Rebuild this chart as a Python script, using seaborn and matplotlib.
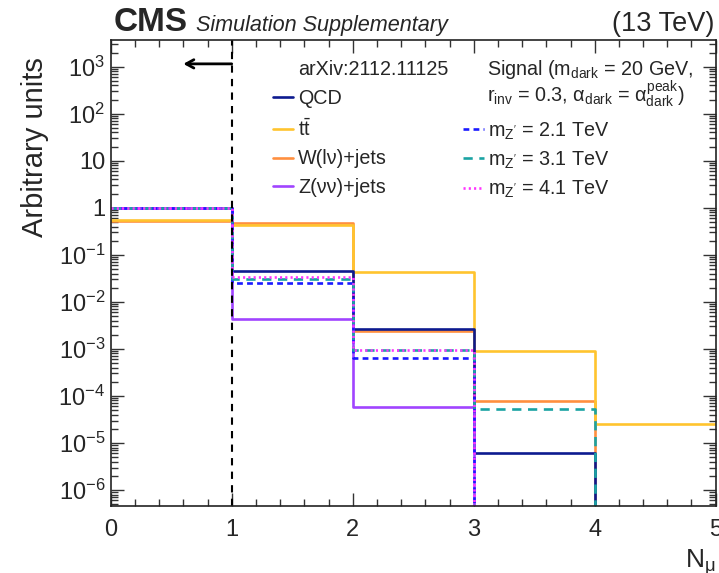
import numpy as np
import pandas as pd
import matplotlib
matplotlib.use("Agg")
import matplotlib.pyplot as plt
import seaborn as sns
from matplotlib.ticker import MultipleLocator, LogLocator, FuncFormatter, NullFormatter
from matplotlib.lines import Line2D

# ---------------- data ----------------
bin_edges = [0, 1, 2, 3, 4, 5]
bin_centers = [0.5, 1.5, 2.5, 3.5, 4.5]

qcd = [1.0, 0.046, 0.0027, 6.2e-6, 0.0]
ttbar = [0.55, 0.44, 0.0435, 8.9e-4, 2.5e-5]
wjets = [0.53, 0.48, 0.0024, 7.7e-5, 0.0]
zjets = [1.0, 0.0044, 5.8e-5, 0.0, 0.0]
sig_21 = [1.0, 0.0246, 6.4e-4, 0.0, 0.0]
sig_31 = [1.0, 0.030, 9.4e-4, 5.2e-5, 0.0]
sig_41 = [1.0, 0.033, 9.4e-4, 0.0, 0.0]

bkg_labels = ["QCD", r"$\mathrm{t\bar{t}}$", "W(lν)+jets", "Z(νν)+jets"]
sig_labels = [r"m$_{\mathrm{Z'}}$ = 2.1 TeV", r"m$_{\mathrm{Z'}}$ = 3.1 TeV", r"m$_{\mathrm{Z'}}$ = 4.1 TeV"]
header_left = "arXiv:2112.11125"
header_right1 = r"Signal (m$_{\mathrm{dark}}$ = 20 GeV,"
header_right2 = r"r$_{\mathrm{inv}}$ = 0.3, $\alpha_{\mathrm{dark}}$ = $\alpha_{\mathrm{dark}}^{\mathrm{peak}}$)"
y_label = "Arbitrary units"
x_label = r"N$_{\mu}$"

# ---------------- style ----------------
sns.set_style("ticks")
plt.rcParams["font.family"] = ["Liberation Sans", "DejaVu Sans"]
plt.rcParams["mathtext.fontset"] = "custom"
plt.rcParams["mathtext.rm"] = "Liberation Sans"
plt.rcParams["mathtext.it"] = "Liberation Sans"
plt.rcParams["mathtext.bf"] = "Liberation Sans:bold"
plt.rcParams["mathtext.sf"] = "Liberation Sans"

fig = plt.figure(figsize=(7.19, 5.73), dpi=100)
ax = fig.add_axes([0.154, 0.1164, 0.8414, 0.8138])
ax.set_yscale("log")

c_qcd = "#0d1a8f"
c_tt = "#ffc42e"
c_w = "#ff8f3f"
c_z = "#a044ff"
c_s1 = "#1a1aff"
c_s2 = "#1aa3a3"
c_s3 = "#ff33ff"

lw = 1.9

def draw(values, color, ls="-"):
    sns.histplot(x=bin_centers, weights=values, bins=bin_edges, element="step",
                 fill=False, color=color, linestyle=ls, linewidth=lw, ax=ax)
    return ax.lines[-1]

h_w = draw(wjets, c_w)
h_tt = draw(ttbar, c_tt)
h_qcd = draw(qcd, c_qcd)
h_z = draw(zjets, c_z)
h_s1 = draw(sig_21, c_s1, (0, (2.2, 1.6)))
h_s2 = draw(sig_31, c_s2, (0, (3.5, 2.5)))
h_s3 = draw(sig_41, c_s3, (0, (0.8, 1.2)))

ax.set_xlim(0, 5)
ax.set_ylim(4.5e-7, 3700)

# selection line and arrow
ax.axvline(1, color="black", ls=(0, (3.5, 3)), lw=1.5)
ax.annotate("", xy=(0.6, 1150), xytext=(1.0, 1150),
            arrowprops=dict(arrowstyle="->,head_length=0.55,head_width=0.3",
                            color="black", lw=2.0, shrinkA=0, shrinkB=0))

# ticks
ax.xaxis.set_major_locator(MultipleLocator(1))
ax.xaxis.set_minor_locator(MultipleLocator(0.2))
ax.yaxis.set_major_locator(LogLocator(base=10, subs=(1.0,), numticks=30))
ax.yaxis.set_minor_locator(LogLocator(base=10, subs=np.arange(2, 10), numticks=30))
ax.yaxis.set_minor_formatter(NullFormatter())

def yfmt(v, pos):
    e = int(round(np.log10(v)))
    if e == 0:
        return "1"
    if e == 1:
        return "10"
    return r"$10^{%d}$" % e

ax.yaxis.set_major_formatter(FuncFormatter(yfmt))
ax.tick_params(which="both", direction="in", top=True, right=True,
               color="#333333", width=1.0, labelsize=17)
ax.tick_params(which="major", length=9.5)
ax.tick_params(which="minor", length=5)
ax.tick_params(axis="y", which="major", pad=4)
ax.tick_params(axis="x", which="major", pad=9)
for s in ax.spines.values():
    s.set_linewidth(1.2)
    s.set_color("#222222")

ax.set_ylabel(y_label, fontsize=21, loc="top")
ax.yaxis.set_label_coords(-0.102, 0.9635)
ax.set_xlabel(x_label, fontsize=19, loc="right", labelpad=5)

# legends
fs_leg = 14.2
blank = Line2D([], [], linestyle="none")
leg1 = ax.legend([blank, h_qcd, h_tt, h_w, h_z], [header_left] + bkg_labels,
                 loc="upper left", bbox_to_anchor=(0.268, 0.957), fontsize=fs_leg,
                 handlelength=1.0, handletextpad=0.27, labelspacing=0.5,
                 borderpad=0, borderaxespad=0, frameon=False)
ax.add_artist(leg1)
leg2 = ax.legend([h_s1, h_s2, h_s3], sig_labels,
                 loc="upper left", bbox_to_anchor=(0.5823, 0.828), fontsize=fs_leg,
                 handlelength=1.05, handletextpad=0.2, labelspacing=0.4,
                 borderpad=0, borderaxespad=0, frameon=False)
ax.text(0.6215, 0.925, header_right1, transform=ax.transAxes, fontsize=fs_leg, va="baseline")
ax.text(0.6215, 0.8677, header_right2, transform=ax.transAxes, fontsize=fs_leg, va="baseline")

# header
ax.text(0.004, 1.02, "CMS", transform=ax.transAxes, fontsize=24, weight="bold", va="baseline")
ax.text(0.141, 1.02, "Simulation Supplementary", transform=ax.transAxes, fontsize=15.6,
        style="italic", va="baseline")
ax.text(0.997, 1.02, "(13 TeV)", transform=ax.transAxes, fontsize=19.5, ha="right", va="baseline")

fig.savefig("out.png", dpi=100)
